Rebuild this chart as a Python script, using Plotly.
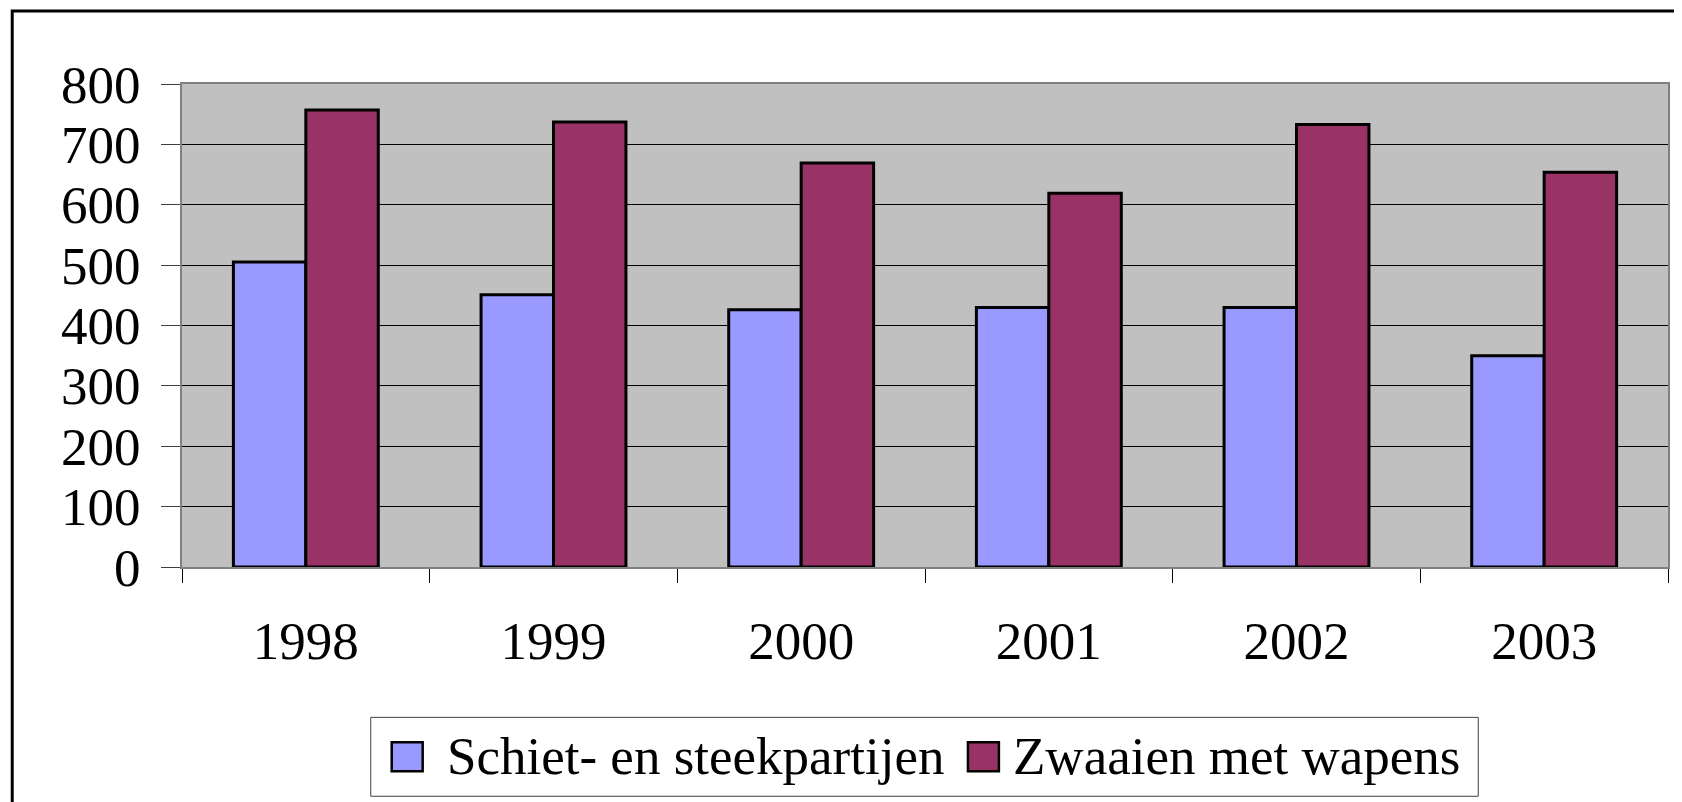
import plotly.graph_objects as go

years = ["1998", "1999", "2000", "2001", "2002", "2003"]
schiet = [505, 451, 426, 430, 430, 350]
zwaaien = [757, 737, 669, 619, 733, 654]
series_names = ["Schiet- en steekpartijen", "Zwaaien met wapens"]
series_colors = ["#9999FF", "#993366"]
y_ticks = [0, 100, 200, 300, 400, 500, 600, 700, 800]

FONT = "Liberation Serif"
FS = 53
OFF = 8                     # default body margin of the html page
W, H = 1682 - OFF, 802 - OFF
# plot area in page pixels
PL, PR, PT, PB = 182, 1670, 84, 567.5
L, T = PL - OFF, PT - OFF
R = W - (PR - OFF)
B = H - (PB - OFF)

pw = PR - PL
ph = PB - PT
def px_x(p):
    return (p - PL) / pw
def px_y(p):
    return (PB - p) / ph

fig = go.Figure()
fig.add_trace(go.Bar(x=years, y=schiet, name=series_names[0], showlegend=False,
                     marker=dict(color=series_colors[0], line=dict(color="black", width=3))))
fig.add_trace(go.Bar(x=years, y=zwaaien, name=series_names[1], showlegend=False,
                     marker=dict(color=series_colors[1], line=dict(color="black", width=3))))

shapes = []
# outer chart frame
shapes.append(dict(type="rect", xref="paper", yref="paper",
                   x0=px_x(12), x1=px_x(1700), y0=px_y(820), y1=px_y(11),
                   line=dict(color="black", width=3), fillcolor="rgba(0,0,0,0)", layer="below"))
# legend box
shapes.append(dict(type="rect", xref="paper", yref="paper",
                   x0=px_x(371), x1=px_x(1480), y0=px_y(797), y1=px_y(718),
                   line=dict(color="#404040", width=1), fillcolor="white"))
annotations = []
leg_sym_x = [392, 969]
leg_txt_x = [445, 1012]
for i, name in enumerate(series_names):
    shapes.append(dict(type="rect", xref="paper", yref="paper",
                       x0=px_x(leg_sym_x[i]), x1=px_x(leg_sym_x[i] + 31),
                       y0=px_y(772), y1=px_y(743),
                       line=dict(color="black", width=2.5), fillcolor=series_colors[i]))
    annotations.append(dict(xref="paper", yref="paper", x=px_x(leg_txt_x[i]), y=px_y(757),
                            xanchor="left", yanchor="middle", text=name, showarrow=False,
                            font=dict(family=FONT, size=FS, color="black")))

fig.update_layout(
    width=W, height=H,
    margin=dict(l=L, r=R, t=T, b=B),
    paper_bgcolor="white",
    plot_bgcolor="#C0C0C0",
    barmode="group",
    bargap=0.415,
    bargroupgap=0,
    font=dict(family=FONT, color="black", size=FS),
    showlegend=False,
    shapes=shapes,
    annotations=annotations,
    xaxis=dict(
        type="category",
        showgrid=False,
        showline=True, linecolor="#808080", linewidth=2, mirror=True,
        ticks="outside", tickson="boundaries", ticklen=14, tickcolor="black", tickwidth=1,
        ticklabelstandoff=26,
        tickfont=dict(family=FONT, size=FS, color="black"),
    ),
    yaxis=dict(
        range=[0, 800],
        tickvals=y_ticks,
        showgrid=True, gridcolor="black", gridwidth=1,
        zeroline=False,
        showline=True, linecolor="#808080", linewidth=2, mirror=True,
        ticks="outside", ticklen=19, tickcolor="#404040", tickwidth=1,
        ticklabelstandoff=10,
        tickfont=dict(family=FONT, size=FS, color="black"),
    ),
)

fig.write_html("out.html")
